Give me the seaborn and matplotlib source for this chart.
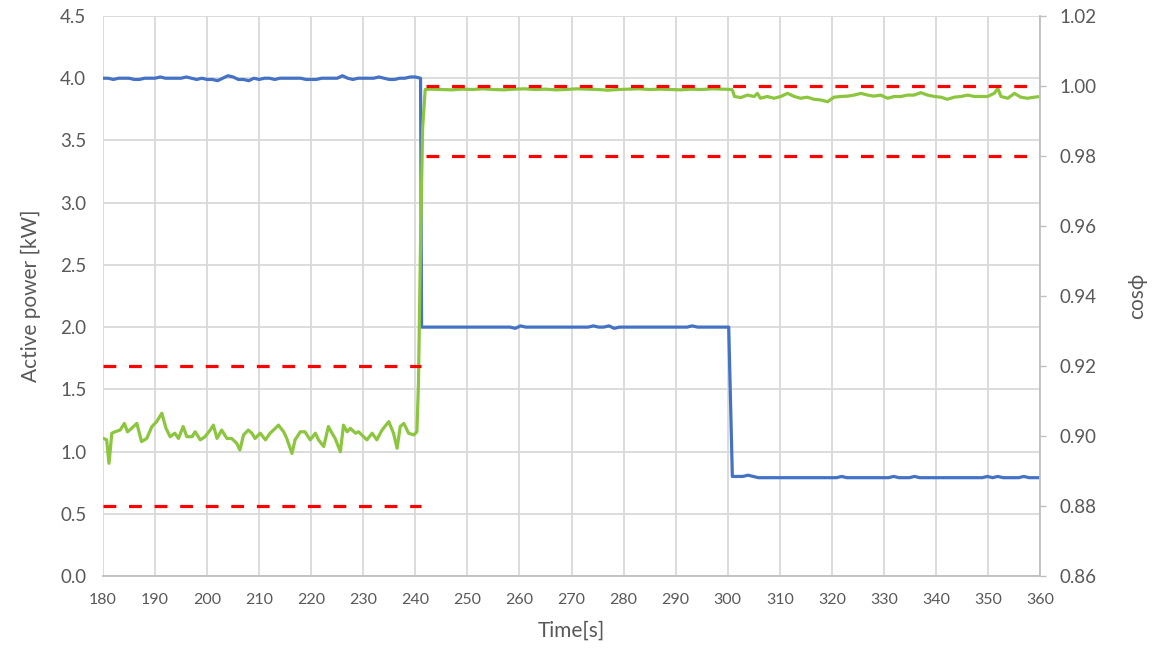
import numpy as np
import pandas as pd
import matplotlib
matplotlib.use("Agg")
import matplotlib.pyplot as plt
import seaborn as sns

# ---- active power [kW] (left axis) ----
P_T1 = np.arange(180, 242)            # 180 .. 241 s
P1 = [4.00, 4.00, 3.99, 4.00, 4.00, 4.00, 3.99, 3.99, 4.00, 4.00,
      4.00, 4.01, 4.00, 4.00, 4.00, 4.00, 4.01, 4.00, 3.99, 4.00,
      3.99, 3.99, 3.98, 4.00, 4.02, 4.01, 3.99, 3.99, 3.98, 4.00,
      3.99, 4.00, 4.00, 3.99, 4.00, 4.00, 4.00, 4.00, 4.00, 3.99,
      3.99, 3.99, 4.00, 4.00, 4.00, 4.00, 4.02, 4.00, 3.99, 4.00,
      4.00, 4.00, 4.00, 4.01, 4.00, 3.99, 3.99, 4.00, 4.00, 4.01,
      4.01, 4.00]
P_T2 = np.arange(241.2, 300.3, 1.0)   # 241.2 .. 300.2 s
P2 = [2.00, 2.00, 2.00, 2.00, 2.00, 2.00, 2.00, 2.00, 2.00, 2.00,
      2.00, 2.00, 2.00, 2.00, 2.00, 2.00, 2.00, 2.00, 1.99, 2.01,
      2.00, 2.00, 2.00, 2.00, 2.00, 2.00, 2.00, 2.00, 2.00, 2.00,
      2.00, 2.00, 2.00, 2.01, 2.00, 2.00, 2.01, 1.99, 2.00, 2.00,
      2.00, 2.00, 2.00, 2.00, 2.00, 2.00, 2.00, 2.00, 2.00, 2.00,
      2.00, 2.00, 2.01, 2.00, 2.00, 2.00, 2.00, 2.00, 2.00, 2.00]
P_T3 = np.arange(300.9, 360.5, 1.0)   # 300.9 .. 359.9 s
P3 = [0.80, 0.80, 0.80, 0.81, 0.80, 0.79, 0.79, 0.79, 0.79, 0.79,
      0.79, 0.79, 0.79, 0.79, 0.79, 0.79, 0.79, 0.79, 0.79, 0.79,
      0.79, 0.80, 0.79, 0.79, 0.79, 0.79, 0.79, 0.79, 0.79, 0.79,
      0.79, 0.80, 0.79, 0.79, 0.79, 0.80, 0.79, 0.79, 0.79, 0.79,
      0.79, 0.79, 0.79, 0.79, 0.79, 0.79, 0.79, 0.79, 0.79, 0.80,
      0.79, 0.80, 0.79, 0.79, 0.79, 0.79, 0.80, 0.79, 0.79, 0.79]

# ---- power factor cos(phi) (right axis) ----
G_T1 = [180.1, 180.7, 181.15, 181.7, 182.3, 183.3, 184.1, 184.7, 185.5, 186.5,
        187.4, 188.4, 189.4, 190.3, 191.3, 192.1, 192.9, 193.8, 194.5, 195.4,
        196.1, 197.1, 197.7, 198.7, 199.6, 200.6, 201.2, 201.9, 202.8, 203.8,
        204.7, 205.7, 206.3, 207.0, 207.9, 208.6, 209.2, 210.2, 211.2, 212.1,
        213.1, 213.7, 214.7, 215.3, 216.3, 216.9, 217.9, 218.8, 219.8, 220.8,
        221.4, 222.4, 223.3, 224.0, 224.6, 225.6, 226.2, 226.9, 227.5, 228.5,
        229.1, 229.7, 230.7, 231.7, 232.6, 233.6, 234.9, 235.8, 236.5, 237.1,
        237.8, 238.7, 239.7, 240.3, 240.6, 241.0, 241.4, 241.9]
G1 = [0.8993, 0.8989, 0.8922, 0.9008, 0.9012, 0.9017, 0.9036, 0.9012, 0.9022, 0.9036,
      0.8984, 0.8993, 0.9027, 0.9041, 0.9065, 0.9022, 0.8998, 0.9008, 0.8993, 0.9027,
      0.8998, 0.8998, 0.9012, 0.8989, 0.8998, 0.9017, 0.9031, 0.8993, 0.9017, 0.8993,
      0.8993, 0.8979, 0.8960, 0.9003, 0.9017, 0.9008, 0.8993, 0.9008, 0.8989, 0.9008,
      0.9022, 0.9031, 0.9012, 0.8993, 0.8950, 0.8989, 0.9012, 0.9012, 0.8989, 0.9008,
      0.8989, 0.8970, 0.9027, 0.9008, 0.8993, 0.8955, 0.9031, 0.9012, 0.9022, 0.9008,
      0.9012, 0.9003, 0.8989, 0.9008, 0.8989, 0.9017, 0.9041, 0.9008, 0.8965, 0.9027,
      0.9036, 0.9008, 0.9003, 0.9012, 0.9150, 0.9550, 0.9880, 0.9990]
G_T2 = [243, 245, 247, 249, 251, 253, 255, 257, 259, 261,
        263, 265, 267, 269, 271, 273, 275, 277, 279, 281,
        283, 285, 287, 289, 291, 293, 295, 297, 299, 300.8]
G2 = [0.9991, 0.9990, 0.9989, 0.9991, 0.9990, 0.9992, 0.9990, 0.9989, 0.9991, 0.9992,
      0.9990, 0.9991, 0.9989, 0.9990, 0.9992, 0.9991, 0.9990, 0.9988, 0.9990, 0.9991,
      0.9992, 0.9990, 0.9991, 0.9990, 0.9989, 0.9991, 0.9990, 0.9992, 0.9991, 0.9990]
G_T3 = [301.0, 301.3, 302.5, 303.8, 305.1, 305.7, 306.3, 307.6, 308.9, 310.2,
        311.5, 312.8, 314.0, 315.3, 316.6, 317.9, 319.2, 320.4, 321.7, 323.0,
        324.3, 325.6, 326.9, 328.1, 329.4, 330.7, 332.0, 333.3, 334.5, 335.8,
        337.1, 338.4, 339.7, 341.0, 342.2, 343.5, 344.8, 346.1, 347.4, 348.6,
        349.9, 351.2, 351.9, 352.5, 353.8, 355.1, 356.3, 357.6, 358.9, 360.0]
G3 = [0.9985, 0.9970, 0.9967, 0.9974, 0.9970, 0.9979, 0.9965, 0.9970, 0.9965, 0.9970,
      0.9979, 0.9970, 0.9965, 0.9968, 0.9962, 0.9960, 0.9955, 0.9968, 0.9970, 0.9971,
      0.9974, 0.9979, 0.9974, 0.9971, 0.9974, 0.9965, 0.9970, 0.9970, 0.9974, 0.9974,
      0.9981, 0.9974, 0.9970, 0.9968, 0.9962, 0.9968, 0.9970, 0.9974, 0.9970, 0.9970,
      0.9970, 0.9979, 0.9993, 0.9970, 0.9965, 0.9979, 0.9968, 0.9965, 0.9968, 0.9970]

# ---- cos(phi) limit bands (red dashed) ----
LIMITS_LO_T = [180.0, 241.0]
LIMITS_LO = [0.92, 0.88]
LIMITS_HI_T = [242.0, 358.6]
LIMITS_HI = [1.00, 0.98]

X_TICKS = list(range(180, 361, 10))
Y1_TICKS = [0.0, 0.5, 1.0, 1.5, 2.0, 2.5, 3.0, 3.5, 4.0, 4.5]
Y2_TICKS = [0.86, 0.88, 0.90, 0.92, 0.94, 0.96, 0.98, 1.00, 1.02]

BLUE = "#4472C4"
GREEN = "#8CC63E"
RED = "#FF0000"
GRID = "#D9D9D9"
TEXT = "#595959"

sns.set_theme(style="white")
plt.rcParams["font.family"] = ["Lato", "DejaVu Sans"]

power = pd.DataFrame({
    "t": np.concatenate([P_T1, P_T2, P_T3]),
    "p": np.concatenate([P1, P2, P3]),
})
pf = pd.DataFrame({
    "t": np.concatenate([G_T1, G_T2, G_T3]),
    "c": np.concatenate([G1, G2, G3]),
})

fig = plt.figure(figsize=(11.57, 6.55), dpi=100)
ax1 = fig.add_axes([103 / 1157, 1 - 576 / 655, (1040 - 103) / 1157, (576 - 16) / 655])
ax2 = ax1.twinx()

sns.lineplot(data=power, x="t", y="p", ax=ax1, color=BLUE, linewidth=2.3,
             estimator=None, sort=False)
sns.lineplot(data=pf, x="t", y="c", ax=ax2, color=GREEN, linewidth=2.3,
             estimator=None, sort=False)
for lvl in LIMITS_LO:
    ax2.plot(LIMITS_LO_T, [lvl, lvl], color=RED, linewidth=2.3,
             dashes=(4.0, 4.0), solid_capstyle="butt", dash_capstyle="butt")
for lvl in LIMITS_HI:
    ax2.plot(LIMITS_HI_T, [lvl, lvl], color=RED, linewidth=2.3,
             dashes=(4.0, 4.0), dash_capstyle="butt")

ax1.set_xlim(180, 360)
ax1.set_ylim(0, 4.5)
ax2.set_ylim(0.86, 1.02)
ax1.set_xticks(X_TICKS)
ax1.set_yticks(Y1_TICKS)
ax2.set_yticks(Y2_TICKS)
ax1.set_xticklabels([str(v) for v in X_TICKS])
ax1.set_yticklabels([f"{v:.1f}" for v in Y1_TICKS])
ax2.set_yticklabels([f"{v:.2f}" for v in Y2_TICKS])

ax1.grid(True, color=GRID, linewidth=1.3)
ax1.set_axisbelow(True)
ax2.grid(False)

for ax in (ax1, ax2):
    for s in ax.spines.values():
        s.set_visible(False)
ax1.spines["bottom"].set_visible(True)
ax1.spines["bottom"].set_color("#BFBFBF")
ax1.spines["bottom"].set_linewidth(1.3)
ax2.spines["right"].set_visible(True)
ax2.spines["right"].set_color("#BFBFBF")
ax2.spines["right"].set_linewidth(1.3)

ax1.tick_params(axis="x", length=0, pad=12, labelsize=11.5, labelcolor=TEXT)
ax1.tick_params(axis="y", length=0, pad=12, labelsize=13.5, labelcolor=TEXT)
ax2.tick_params(axis="y", direction="out", length=4, width=1.0, color="#BFBFBF",
                pad=10, labelsize=13.5, labelcolor=TEXT)

ax1.set_xlabel("Time[s]", fontsize=15, color=TEXT, labelpad=10)
ax1.set_ylabel("Active power [kW]", fontsize=15, color=TEXT, labelpad=14)
ax2.set_ylabel("cosϕ", fontsize=15, color=TEXT, labelpad=22)

fig.savefig("out.png", dpi=100, facecolor="white")
